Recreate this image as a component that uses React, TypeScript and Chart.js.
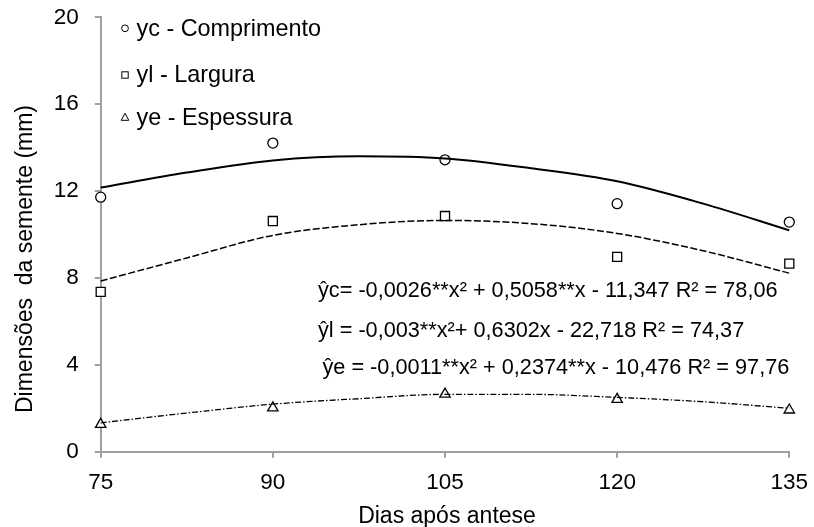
import React, { useEffect, useRef } from 'react';
import { Chart, registerables } from 'chart.js';

Chart.register(...registerables);

// Observed means
const days = [75, 90, 105, 120, 135];
const comprimento = [11.72, 14.21, 13.44, 11.42, 10.57];
const largura = [7.36, 10.62, 10.85, 8.97, 8.66];
const espessura = [1.26, 2.02, 2.65, 2.41, 1.92];

// Fitted curves
const trendDays = [75, 82.5, 90, 97.5, 105, 112.5, 120, 127.5, 135];
const trendComprimento = [12.16, 12.85, 13.41, 13.6, 13.5, 13.05, 12.45, 11.42, 10.19];
const trendLargura = [7.86, 8.92, 9.96, 10.45, 10.65, 10.5, 10.05, 9.25, 8.22];
const trendEspessura = [1.33, 1.78, 2.19, 2.44, 2.64, 2.64, 2.5, 2.3, 2.0];

const xTicks = [75, 90, 105, 120, 135];
const yTicks = [0, 4, 8, 12, 16, 20];

const legendLabels = ['yc - Comprimento', 'yl - Largura', 'ye - Espessura'];
const equations = [
  'ŷc= -0,0026**x² + 0,5058**x - 11,347 R² = 78,06',
  'ŷl = -0,003**x²+ 0,6302x - 22,718 R² = 74,37',
  'ŷe = -0,0011**x² + 0,2374**x - 10,476 R² = 97,76',
];
const xTitle = 'Dias após antese';
const yTitle = 'Dimensões  da semente (mm)';

const FONT = "'Liberation Sans', Arial, sans-serif";
const AXIS = '#a0a0a0';

const TARGET = { left: 100.7, top: 17.3, right: 789.3, bottom: 451.7 };

const pts = (xs: number[], ys: number[]) => xs.map((x, i) => ({ x, y: ys[i] }));

const textPlugin = {
  id: 'texts',
  afterDraw(chart: any) {
    const ctx = chart.ctx as CanvasRenderingContext2D;
    ctx.save();
    ctx.fillStyle = '#000';
    ctx.strokeStyle = '#000';
    ctx.textBaseline = 'alphabetic';
    ctx.textAlign = 'left';

    // legend
    ctx.font = `23.4px ${FONT}`;
    const lx = 125;
    const markerY = [28.3, 75, 117.3];
    const baseY = [36.2, 82, 124.6];
    ctx.lineWidth = 1;
    ctx.beginPath();
    ctx.arc(lx, markerY[0], 3.4, 0, Math.PI * 2);
    ctx.stroke();
    ctx.strokeRect(lx - 3.2, markerY[1] - 3.2, 6.4, 6.4);
    ctx.beginPath();
    ctx.moveTo(lx, markerY[2] - 4);
    ctx.lineTo(lx + 3.8, markerY[2] + 3);
    ctx.lineTo(lx - 3.8, markerY[2] + 3);
    ctx.closePath();
    ctx.stroke();
    legendLabels.forEach((t, i) => ctx.fillText(t, 136.5, baseY[i]));

    // equations
    ctx.font = `21.7px ${FONT}`;
    const eqX = [318, 318, 322.5];
    const eqY = [297.3, 336.7, 374.3];
    equations.forEach((t, i) => ctx.fillText(t, eqX[i], eqY[i]));

    // axis titles
    ctx.font = `23px ${FONT}`;
    ctx.textAlign = 'center';
    ctx.fillText(xTitle, 447, 523);
    ctx.save();
    ctx.translate(32, 259);
    ctx.rotate(-Math.PI / 2);
    ctx.fillText(yTitle, 0, 0);
    ctx.restore();

    ctx.restore();
  },
};

export default function App() {
  const ref = useRef<HTMLCanvasElement | null>(null);

  useEffect(() => {
    if (!ref.current) return;
    const common = {
      showLine: false,
      borderColor: '#000',
      backgroundColor: '#fff',
      pointBorderColor: '#000',
      pointBackgroundColor: '#fff',
      pointBorderWidth: 1.3,
      clip: false as any,
    };
    const trend = {
      pointRadius: 0,
      borderColor: '#000',
      backgroundColor: '#000',
      fill: false,
      cubicInterpolationMode: 'monotone' as const,
      clip: false as any,
    };
    const fit = { yWidth: TARGET.left, xHeight: 527 - TARGET.bottom };
    const pad = { left: 0, top: TARGET.top, right: 814 - TARGET.right, bottom: 0 };
    const chart = new Chart(ref.current, {
      type: 'scatter',
      data: {
        datasets: [
          { ...trend, type: 'line', data: pts(trendDays, trendComprimento), borderWidth: 2 } as any,
          { ...trend, type: 'line', data: pts(trendDays, trendLargura), borderWidth: 1.5, borderDash: [7, 2.5] } as any,
          { ...trend, type: 'line', data: pts(trendDays, trendEspessura), borderWidth: 1.3, borderDash: [6, 2, 1.5, 2] } as any,
          { ...common, data: pts(days, comprimento), pointStyle: 'circle', pointRadius: 5 } as any,
          { ...common, data: pts(days, largura), pointStyle: 'rect', pointRadius: 6.4 } as any,
          { ...common, data: pts(days, espessura), pointStyle: 'triangle', pointRadius: 6 } as any,
        ],
      },
      options: {
        responsive: false,
        animation: false,
        devicePixelRatio: 1,
        layout: { padding: { ...pad } },
        plugins: { legend: { display: false }, tooltip: { enabled: false } },
        scales: {
          x: {
            type: 'linear',
            min: 75,
            max: 135,
            afterBuildTicks: (s: any) => { s.ticks = xTicks.map((v) => ({ value: v })); },
            afterFit: (s: any) => {
              s.height = fit.xHeight;
              s.paddingLeft = 0;
              s.paddingRight = 0;
            },
            ticks: { font: { family: FONT, size: 22.5 }, color: '#000', padding: 12, maxRotation: 0 },
            grid: { display: true, drawOnChartArea: false, drawTicks: true, tickLength: 6, color: AXIS, lineWidth: 2 },
            border: { display: true, color: AXIS, width: 2 },
          },
          y: {
            type: 'linear',
            min: 0,
            max: 20,
            afterBuildTicks: (s: any) => { s.ticks = yTicks.map((v) => ({ value: v })); },
            afterFit: (s: any) => {
              s.width = fit.yWidth;
              s.paddingTop = 0;
              s.paddingBottom = 0;
            },
            ticks: { font: { family: FONT, size: 22.5 }, color: '#000', padding: 16 },
            grid: { display: true, drawOnChartArea: false, drawTicks: true, tickLength: 6, color: AXIS, lineWidth: 2 },
            border: { display: true, color: AXIS, width: 2 },
          },
        },
      },
      plugins: [textPlugin],
    } as any);

    // nudge layout so the plot area lands where the reference has it
    for (let i = 0; i < 6; i++) {
      const a = chart.chartArea;
      if (!a) break;
      const dTop = TARGET.top - a.top;
      const dRight = a.right - TARGET.right;
      const dLeft = TARGET.left - a.left;
      const dBottom = a.bottom - TARGET.bottom;
      if (Math.abs(dTop) + Math.abs(dRight) + Math.abs(dLeft) + Math.abs(dBottom) < 0.2) break;
      pad.top = Math.max(0, pad.top + dTop);
      pad.right = Math.max(0, pad.right + dRight);
      fit.yWidth += dLeft;
      fit.xHeight += dBottom;
      (chart.config.options as any).layout = { padding: { ...pad } };
      chart.update();
    }
    return () => chart.destroy();
  }, []);

  return (
    <div style={{ position: 'fixed', left: 0, top: 0, width: 814, height: 527, background: '#fff' }}>
      <canvas ref={ref} width={814} height={527} style={{ display: 'block', width: 814, height: 527 }} />
    </div>
  );
}
